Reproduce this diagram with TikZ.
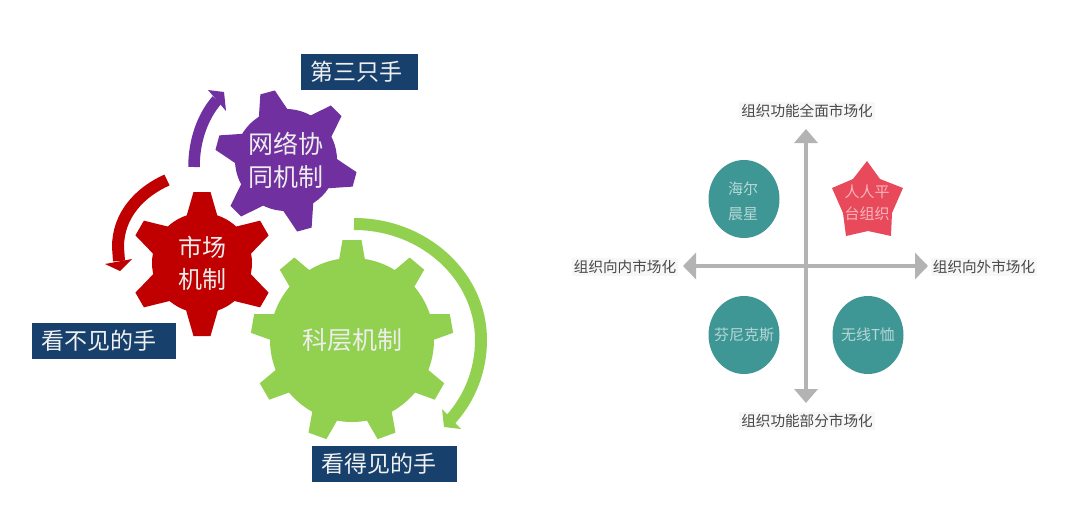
\documentclass[tikz,border=0pt]{standalone}
\usepackage{fontspec}
\setmainfont{Noto Sans CJK SC}
\usetikzlibrary{arrows.meta}
\definecolor{gearred}{HTML}{C00000}
\definecolor{gearpurple}{HTML}{7030A0}
\definecolor{geargreen}{HTML}{92D050}
\definecolor{tagblue}{HTML}{17406D}
\definecolor{axisgray}{HTML}{B3B3B3}
\definecolor{tealfill}{HTML}{3F9795}
\definecolor{starfill}{HTML}{E8495B}
\definecolor{labelgray}{HTML}{484848}
\newcommand{\geartooth}[7]{% cx cy angle rbase rtip wbase wtip
  \fill[shift={(#1,#2)},rotate=#3] (#4-4,-#6) -- (#5,-#7) -- (#5,#7) -- (#4-4,#6) -- cycle;}
\tikzset{
  gearbody/.style={circle,inner sep=0pt,align=center,text=white!93!black},
  tag/.style={fill=tagblue,text=white!94!black,font=\fontsize{23}{23}\selectfont,inner sep=0pt,anchor=north west},
  axislabel/.style={fill=black!3,text=labelgray,font=\fontsize{14.6}{15}\selectfont,inner sep=2pt},
  disctext/.style={text=white!62!tealfill,font=\fontsize{15}{25}\selectfont,align=center,inner sep=0pt},
  axisline/.style={axisgray,line width=4.6pt},
  curvearrow/.style={line width=12pt},
}
\begin{document}
\begin{tikzpicture}[x=1pt,y=-1pt]
\useasboundingbox (0,0) rectangle (1080,522);
\fill[white] (0,0) rectangle (1080,522);
% purple gear
\begin{scope}[gearpurple]
\foreach \a in {45,105,165,225,285,345} {\geartooth{286}{161}{\a}{50}{71}{16}{7.5}}
\node[gearbody,fill=gearpurple,minimum size=102pt,font=\fontsize{25}{33}\selectfont] (net) at (286,160) {网络协\\同机制};
\end{scope}
% red gear
\begin{scope}[gearred]
\foreach \a in {30,90,150,210,270,330} {\geartooth{202}{264}{\a}{50}{72}{16}{8.5}}
\node[gearbody,fill=gearred,minimum size=100pt,font=\fontsize{24}{32}\selectfont] (market) at (202,263) {市场\\机制};
\end{scope}
% green gear
\begin{scope}[geargreen]
\foreach \a in {10,50,90,130,170,210,250,290,330} {\geartooth{352}{341}{\a}{82}{101}{13.5}{9.5}}
\node[gearbody,fill=geargreen,minimum size=164pt,font=\fontsize{25}{30}\selectfont] (hier) at (352,340) {科层机制};
\end{scope}
% curved arrows
\coordinate (ps) at (194,167); \coordinate (pe) at (217,100);
\draw[gearpurple,line width=11.5pt] (ps) .. controls (194,140) and (203,116) .. (pe);
\fill[gearpurple] (208,90) -- (224,92) -- (226,111) -- cycle;
\coordinate (rs) at (167,180); \coordinate (re) at (119,261);
\draw[gearred,curvearrow] (rs) .. controls (140,192) and (118,215) .. (118,247) -- (re);
\fill[gearred] (105,264) -- (132,259) -- (120,271) -- cycle;
\coordinate (gs) at (354,224); \coordinate (gm) at (481,340); \coordinate (ge) at (451,419);
\draw[geargreen,curvearrow] (gs) .. controls (424,224) and (481,276) .. (gm) .. controls (481,370) and (470,398) .. (ge);
\fill[geargreen] (442,409) -- (461,429) -- (444,427) -- cycle;
% tags
\node[tag,minimum width=117pt,minimum height=36pt] (third) at (301,54) {\makebox[117pt][l]{\hspace{9pt}第三只手}};
\node[tag,minimum width=144pt,minimum height=36pt] (invisible) at (32,323) {\makebox[144pt][l]{\hspace{9pt}看不见的手}};
\node[tag,minimum width=145pt,minimum height=36pt] (visible) at (312,446) {\makebox[145pt][l]{\hspace{9pt}看得见的手}};
% axes
\coordinate (axL) at (683,266); \coordinate (axR) at (928,266);
\coordinate (axT) at (806,129); \coordinate (axB) at (806,403);
\draw[axisline,{Triangle[length=13pt,width=26pt]}-{Triangle[length=13pt,width=26pt]}] (axL) -- (axR);
\draw[axisline,{Triangle[length=14pt,width=23pt]}-{Triangle[length=14pt,width=23pt]}] (axT) -- (axB);
% axis labels
\node[axislabel] (ltop) at (807,111) {组织功能全面市场化};
\node[axislabel] (lbot) at (807,421) {组织功能部分市场化};
\node[axislabel] (lleft) at (625,267) {组织向内市场化};
\node[axislabel] (lright) at (984,267) {组织向外市场化};
% discs
\fill[tealfill] (744,199) ellipse [x radius=35.5,y radius=39];
\fill[tealfill] (744,335) ellipse [x radius=35.5,y radius=39];
\fill[tealfill] (868,335) ellipse [x radius=35.5,y radius=39];
\node[disctext] (haier) at (743,201) {海尔\\晨星};
\node[disctext] (fnks) at (744,335) {芬尼克斯};
\node[disctext] (tee) at (868,335) {无线T恤};
% star
\fill[starfill] (867,161) -- (880,179) -- (903,188) -- (892,213) -- (891,236) -- (868,231) -- (846,236) -- (843,213) -- (832,188) -- (853,179) -- cycle;
\node[disctext,text=white!60!starfill,font=\fontsize{15}{22}\selectfont] (people) at (867,203) {人人平\\台组织};
\end{tikzpicture}
\end{document}
